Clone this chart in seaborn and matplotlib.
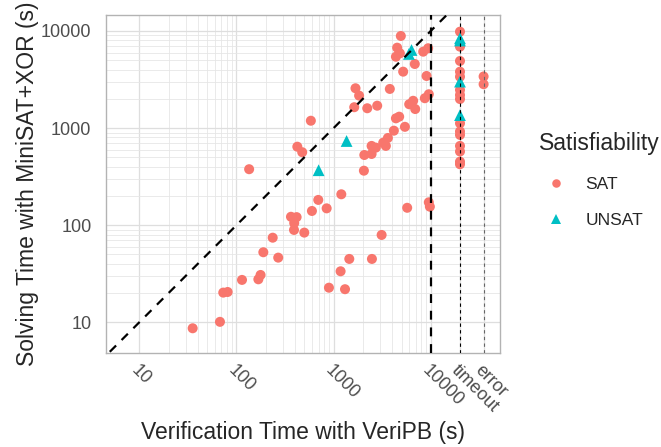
import numpy as np
import pandas as pd
import matplotlib
matplotlib.use("Agg")
import matplotlib.pyplot as plt
import seaborn as sns

TIMEOUT = 20000
ERROR = 35000

# SAT instances: verification time vs solving time (s)
sat_verif = [4920, 4510, 4810, 4380, 8360, 9400, 6850, 5200, 9050, 3790,
             1680, 1830, 1630, 2220, 2810, 6590, 6000, 6920, 8690, 9550,
             583, 4380, 4730, 5420, 4170, 3620, 3240, 3450, 2460, 2720,
             2070, 2460, 423, 475, 135, 2050, 9550, 9790, 5720, 1200,
             695, 848, 598, 364, 416, 393, 391, 499, 3120, 236,
             189, 269, 1450, 2480, 1180, 177, 168, 114, 895, 1310,
             73.1, 81.1, 67.6, 35.4]
sat_solve = [8880, 6730, 5890, 5430, 6120, 6640, 4570, 3810, 3440, 2530,
             2570, 2160, 1640, 1600, 1700, 1910, 1760, 1570, 2030, 2230,
             1190, 1260, 1310, 1030, 940, 791, 707, 655, 655, 629,
             528, 541, 643, 564, 377, 364, 172, 155, 151, 208,
             182, 149, 140, 122, 121, 105, 89.3, 83.8, 79.3, 74.3,
             52.6, 46.3, 44.9, 44.9, 33.5, 30.7, 27.7, 27.3, 22.7, 21.9,
             20.2, 20.5, 10.1, 8.67]
sat_timeout_solve = [9840, 6890, 4910, 3810, 3380, 2470, 2190, 1990, 1120,
                     923, 850, 655, 574, 451, 424]
sat_error_solve = [3400, 2830]

# UNSAT instances
unsat_verif = [6340, 5960, 1360, 701]
unsat_solve = [6370, 5800, 736, 368]
unsat_timeout_solve = [8410, 7980, 3010, 1360]

x_breaks = [10, 100, 1000, 10000, TIMEOUT, ERROR]
x_labels = ["10", "100", "1000", "10000", "timeout", "error"]
y_breaks = [10, 100, 1000, 10000]
y_labels = ["10", "100", "1000", "10000"]

verif = (sat_verif + [TIMEOUT] * len(sat_timeout_solve) + [ERROR] * len(sat_error_solve)
         + unsat_verif + [TIMEOUT] * len(unsat_timeout_solve))
solve = sat_solve + sat_timeout_solve + sat_error_solve + unsat_solve + unsat_timeout_solve
status = (["SAT"] * (len(sat_verif) + len(sat_timeout_solve) + len(sat_error_solve))
          + ["UNSAT"] * (len(unsat_verif) + len(unsat_timeout_solve)))
df = pd.DataFrame({"verif": verif, "solve": solve, "Satisfiability": status})

sns.set_style("white")
plt.rcParams["font.family"] = ["Liberation Sans", "DejaVu Sans"]

fig = plt.figure(figsize=(6.61, 4.47), dpi=100)
ax = fig.add_axes([0.1604, 0.2110, 0.5960, 0.7554])

sns.scatterplot(data=df, x="verif", y="solve", hue="Satisfiability", style="Satisfiability",
                size="Satisfiability", sizes={"SAT": 52, "UNSAT": 72},
                hue_order=["SAT", "UNSAT"], style_order=["SAT", "UNSAT"],
                size_order=["SAT", "UNSAT"],
                palette={"SAT": "#F8766D", "UNSAT": "#00BFC4"},
                markers={"SAT": "o", "UNSAT": "^"}, linewidth=0, ax=ax, zorder=3)

ax.set_xscale("log")
ax.set_yscale("log")
ax.set_xlim(4.54, 51600)
ax.set_ylim(4.86, 14600)

# reference lines
diag = np.array([1, 100000])
ax.plot(diag, diag, color="black", ls=(2, (4, 3.5)), lw=1.6, zorder=4)
ax.axvline(10000, color="black", ls=(0, (4, 3.5)), lw=1.6, zorder=4)
ax.axvline(TIMEOUT, color="black", ls=(0, (3, 3)), lw=0.8, zorder=4)
ax.axvline(ERROR, color="#666666", ls=(0, (3, 3)), lw=0.8, zorder=4)

minor = [m * 10 ** k for k in range(1, 4) for m in range(2, 10)]
ax.set_xticks(x_breaks)
ax.set_xticklabels(x_labels, rotation=-45, ha="left", va="top", rotation_mode="anchor")
ax.set_xticks(minor, minor=True)
ax.set_yticks(y_breaks)
ax.set_yticklabels(y_labels)
ax.set_yticks(minor, minor=True)
ax.tick_params(which="major", length=3.5, width=0.8, color="#B3B3B3",
               labelsize=13, labelcolor="#4D4D4D", pad=3)
ax.tick_params(axis="y", which="major", pad=7)
ax.tick_params(which="minor", length=0)
ax.grid(which="major", color="#DEDEDE", lw=0.9)
ax.grid(which="minor", color="#E6E6E6", lw=0.6)
ax.set_axisbelow(True)
for sp in ax.spines.values():
    sp.set_color("#B3B3B3")
    sp.set_linewidth(1.0)

ax.set_xlabel("Verification Time with VeriPB (s)", fontsize=16.5)
ax.set_ylabel("Solving Time with MiniSAT+XOR (s)", fontsize=16.5)
ax.xaxis.set_label_coords(0.5, -0.235)
ax.xaxis.label.set_va("center")
ax.yaxis.set_label_coords(-0.200, 0.5)
ax.yaxis.label.set_va("center")

sns.move_legend(ax, "upper left", bbox_to_anchor=(0.815, 0.705), bbox_transform=fig.transFigure,
                frameon=False, title="Satisfiability", fontsize=12.5, title_fontsize=16.5,
                alignment="left", labelspacing=1.2, handletextpad=0.7, borderpad=0,
                borderaxespad=0, markerscale=0.85)
leg = ax.get_legend()
leg._legend_box.sep = 16

fig.savefig("out.png", dpi=100)
